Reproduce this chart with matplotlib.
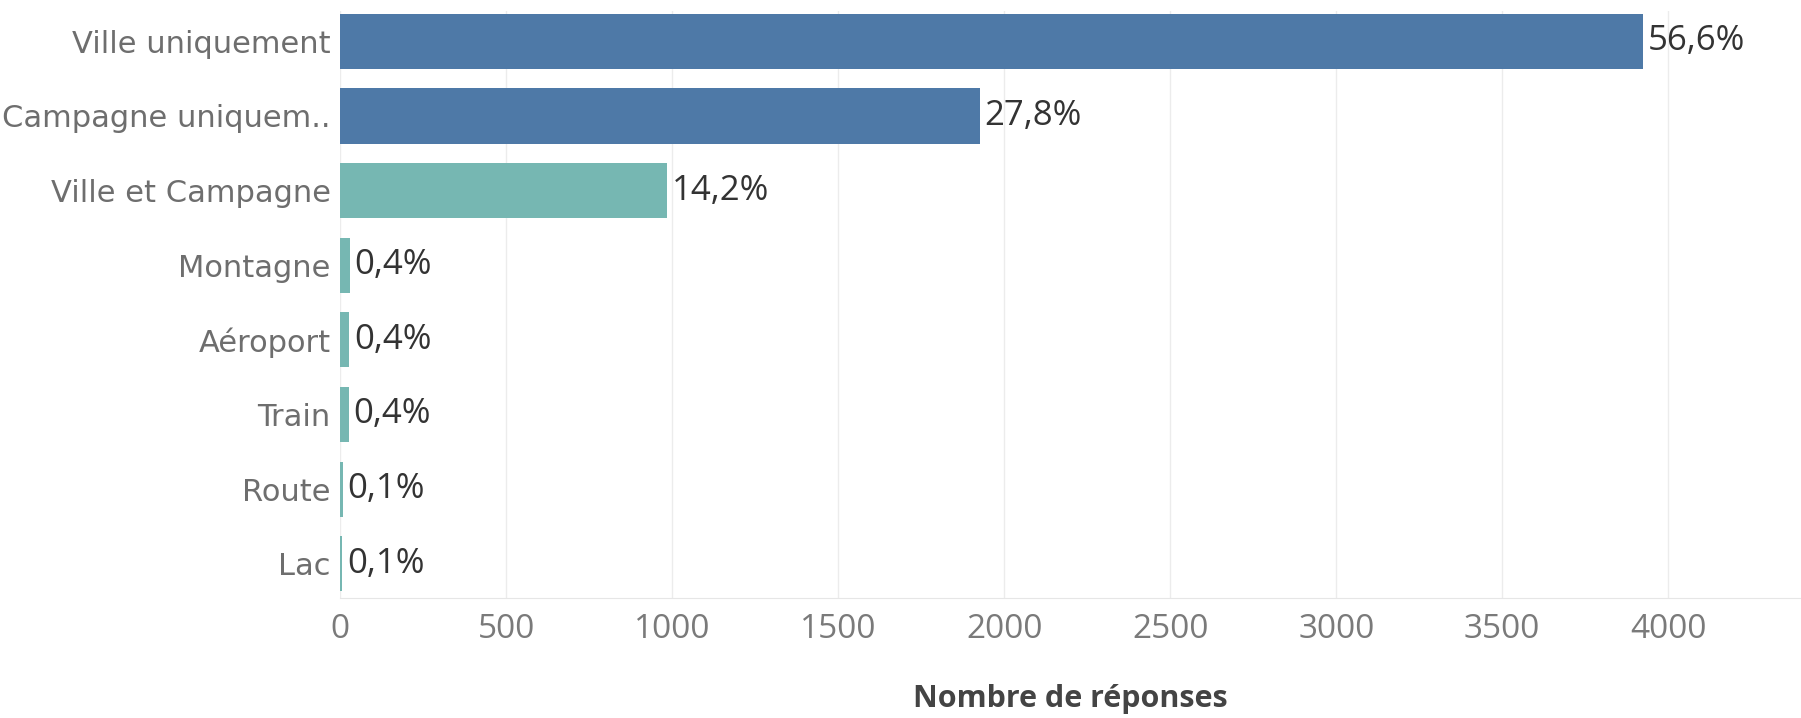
import matplotlib.pyplot as plt

# lieux de réponse et nombre de réponses
categories = ["Ville uniquement", "Campagne uniquem..", "Ville et Campagne",
              "Montagne", "Aéroport", "Train", "Route", "Lac"]
values = [3924, 1927, 985, 28, 27, 25, 7, 6]
groups = ["blue", "blue", "teal", "teal", "teal", "teal", "teal", "teal"]

colors = {"blue": "#4e79a7", "teal": "#76b7b2"}
total = sum(values)

plt.rcParams['font.family'] = ['DejaVu Sans']

fig = plt.figure(figsize=(18.01, 7.18), dpi=100)
ax = fig.add_axes([0.189, 0.167, 0.811, 0.817])

ypos = list(range(len(categories)))
ax.barh(ypos, values, height=0.74, color=[colors[g] for g in groups], zorder=2)

for y, v in zip(ypos, values):
    pct = ("%.1f%%" % (100.0 * v / total)).replace(".", ",")
    ax.text(v + 14, y, pct, va="center", ha="left", fontsize=25, color="#333333",
            family=['Open Sans', 'DejaVu Sans'])

ax.set_xlim(0, 4400)
ax.set_ylim(7.46, -0.4)
ax.set_yticks(ypos)
ax.set_yticklabels(categories, fontsize=22, color="#6e6e6e")
ax.set_xticks(range(0, 4001, 500))
ax.set_xticklabels([str(t) for t in range(0, 4001, 500)], fontsize=24, color="#7a7a7a",
                   family=['Open Sans', 'DejaVu Sans'])
ax.tick_params(axis="y", length=0, pad=7)
ax.tick_params(axis="x", length=0, pad=11)

ax.grid(axis="x", color="#ececec", linewidth=1, zorder=0)
for s in ["top", "right", "left"]:
    ax.spines[s].set_visible(False)
ax.spines["bottom"].set_color("#e6e6e6")

ax.set_xlabel("Nombre de réponses", fontsize=22, color="#444444",
              fontweight="bold", labelpad=27, family=['Open Sans', 'DejaVu Sans'])

plt.savefig("out.png", dpi=100)
